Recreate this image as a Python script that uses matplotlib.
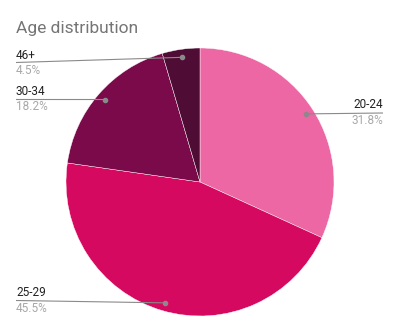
import matplotlib.pyplot as plt
import numpy as np

labels = ["20-24", "25-29", "30-34", "46+"]
values = [7, 10, 4, 1]
colors = ["#ec67a3", "#d5095f", "#7b0a4a", "#4f0d35"]
title = "Age distribution"

# label layout (pixel coords): text x, label y, line y at text end, side
label_pos = {
    "20-24": (383, 105, 113, "right"),
    "25-29": (16, 293, 300.5, "left"),
    "30-34": (16, 91.5, 99.5, "left"),
    "46+": (16, 55.5, 62.5, "left"),
}

cx, cy, R = 200, 182, 134

fig = plt.figure(figsize=(4, 3.31), dpi=100)
ax = fig.add_axes([0, 0, 1, 1])

wedges, _ = ax.pie(values, colors=colors, startangle=90, counterclock=False,
                   center=(cx, 331 - cy), radius=R,
                   wedgeprops=dict(edgecolor="#ffffff", linewidth=0.3))
ax.set_xlim(0, 400)
ax.set_ylim(0, 331)
ax.set_aspect("equal")
ax.axis("off")

fig.text(16 / 400, 1 - 33 / 331, title, fontsize=12.5, color="#757575",
         family="Roboto", va="baseline", ha="left")

total = sum(values)
for w, lab, v in zip(wedges, labels, values):
    ang = np.deg2rad((w.theta1 + w.theta2) / 2)
    dx = cx + 0.94 * R * np.cos(ang)
    dy = 331 - cy + 0.94 * R * np.sin(ang)
    tx, ly, liney, side = label_pos[lab]
    ax.plot([tx, dx], [331 - liney, dy], color="#8a8a8a", lw=0.8,
            solid_capstyle="butt", zorder=5)
    ax.plot(dx, dy, "o", color="#8a8a8a", ms=3, zorder=6)
    ax.text(tx, 331 - ly, lab, fontsize=8.5, color="#222222", family="Roboto",
            ha=side, va="center")
    ax.text(tx, 331 - ly - 15, f"{100 * v / total:.1f}%", fontsize=8.5,
            color="#a8a8a8", family="Roboto", ha=side, va="center")

fig.savefig("out.png", dpi=100, facecolor="white")
